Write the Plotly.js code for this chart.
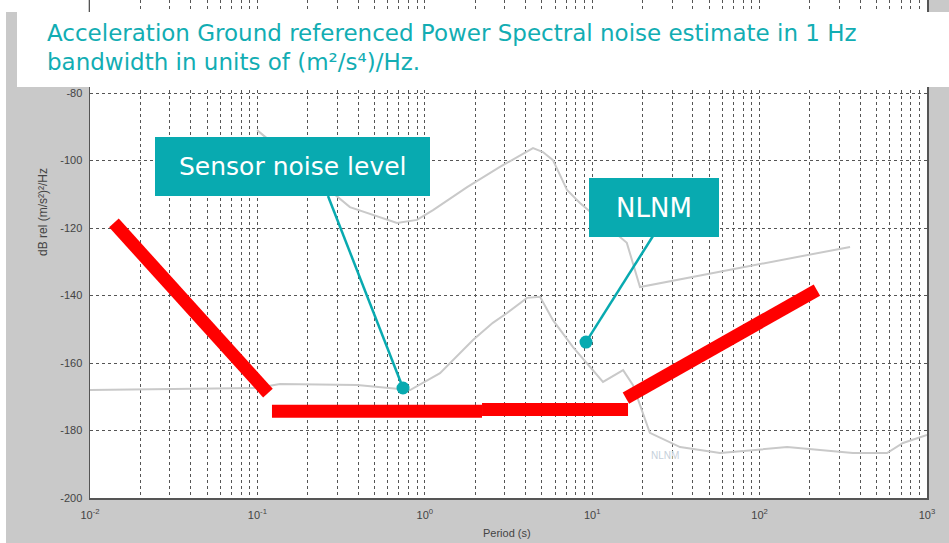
<!DOCTYPE html>
<html>
<head>
<meta charset="utf-8">
<script src="https://cdn.plot.ly/plotly-3.0.1.min.js"></script>
<style>html,body{margin:0;padding:0;background:#fff;}#chart{width:949px;height:543px;}</style>
</head>
<body>
<div id="chart"></div>
<script>
// ---- Data ----
// Lower grey curve (NLNM), period in s, level in dB
const nlnmPeriod = [0.01, 0.0995, 0.1364, 0.394, 0.817, 1.233, 1.94, 2.55, 3.10, 4.08, 4.88, 5.83, 7.68, 10.1, 11.6, 15.3, 17.5, 22.1, 33.5, 58.0, 146, 361, 577, 719, 1000];
const nlnmDb     = [-168.0, -167.4, -166.2, -166.5, -168.0, -163.0, -153.2, -148.1, -145.2, -140.7, -140.4, -147.3, -155.3, -162.1, -165.6, -162.1, -166.5, -180.7, -184.9, -186.7, -184.9, -186.7, -186.7, -183.7, -181.3];
// Upper grey curve
const upperPeriod = [0.0995, 0.357, 0.682, 0.898, 1.12, 1.79, 2.81, 4.43, 5.08, 5.83, 7.07, 8.45, 16.1, 19.3, 347];
const upperDb     = [-91.0, -113.8, -118.5, -117.6, -114.7, -107.9, -101.9, -96.3, -97.5, -99.9, -108.7, -112.6, -124.4, -137.5, -125.6];
// Sensor noise level (red), segments separated by null
const sensorPeriod = [0.0139, 0.1156, null, 0.1222, 2.197, null, 2.197, 16.37, null, 15.9, 220];
const sensorDb     = [-118.5, -168.9, null, -174.3, -174.3, null, -173.8, -173.8, null, -170.4, -138.4];
// Axis ticks
const xTickVals = [0.01, 0.1, 1, 10, 100, 1000];
const xTickText = ['10<sup>-2</sup>', '10<sup>-1</sup>', '10<sup>0</sup>', '10<sup>1</sup>', '10<sup>2</sup>', '10<sup>3</sup>'];
const yTickVals = [-200, -180, -160, -140, -120, -100, -80];
const yTickText = ['-200', '-180', '-160', '-140', '-120', '-100', '-80'];
// Texts
const titleLine1 = 'Acceleration Ground referenced Power Spectral noise estimate in 1 Hz';
const titleLine2 = 'bandwidth in units of (m\u00B2/s\u2074)/Hz.';
const labelSensor = 'Sensor noise level';
const labelNlnm = 'NLNM';
const xTitle = 'Period (s)';
const yTitle = 'dB rel (m/s\u00B2)\u00B2/Hz';
// Pointer targets (period, dB)
const sensorPointer = [0.741, -167.4];
const nlnmPointer = [9.18, -153.8];

// ---- Layout helpers ----
const W = 949, H = 543, ML = 90, MR = 22, MT = 0, MB = 45;
const PW = W - ML - MR, PH = H - MT - MB;
const X_MIN = -2, X_MAX = 3, Y_MIN = -200, Y_PX_PER_DB = 3.375;
const Y_MAX = Y_MIN + PH / Y_PX_PER_DB;
const px = x => (x - ML) / PW;              // pixel x -> paper x
const py = y => (H - MB - y) / PH;          // pixel y -> paper y
const dx = p => (Math.log10(p) - X_MIN) / (X_MAX - X_MIN);   // period -> paper x
const dy = v => (v - Y_MIN) / (Y_MAX - Y_MIN);                // dB -> paper y

const teal = '#08aab0';
const gridCol = '#555555';
const R = 6.5;

const traces = [
  {x: upperPeriod, y: upperDb, mode: 'lines', line: {color: '#c9c9c9', width: 2}, hoverinfo: 'skip'},
  {x: nlnmPeriod, y: nlnmDb, mode: 'lines', line: {color: '#c9c9c9', width: 2}, hoverinfo: 'skip'},
  {x: sensorPeriod, y: sensorDb, mode: 'lines', connectgaps: false, line: {color: '#ff0000', width: 13}, hoverinfo: 'skip'}
];

function dot(pt) {
  const cx = dx(pt[0]), cy = dy(pt[1]);
  return {type: 'circle', xref: 'paper', yref: 'paper', x0: cx - R / PW, x1: cx + R / PW, y0: cy - R / PH, y1: cy + R / PH, fillcolor: teal, line: {width: 0}, layer: 'above'};
}

const shapes = [
  // white page margins
  {type: 'rect', xref: 'paper', yref: 'paper', x0: px(0), x1: px(6), y0: py(543), y1: py(0), fillcolor: '#fff', line: {width: 0}, layer: 'above'},
  {type: 'rect', xref: 'paper', yref: 'paper', x0: px(0), x1: px(88), y0: py(12), y1: py(0), fillcolor: '#fff', line: {width: 0}, layer: 'above'},
  // title box
  {type: 'rect', xref: 'paper', yref: 'paper', x0: px(17), x1: px(949), y0: py(87), y1: py(12), fillcolor: '#fff', line: {width: 0}, layer: 'above'},
  // pointer lines
  {type: 'line', xref: 'paper', yref: 'paper', x0: px(328), y0: py(196), x1: dx(sensorPointer[0]), y1: dy(sensorPointer[1]), line: {color: teal, width: 2.5}, layer: 'above'},
  {type: 'line', xref: 'paper', yref: 'paper', x0: px(653), y0: py(236), x1: dx(nlnmPointer[0]), y1: dy(nlnmPointer[1]), line: {color: teal, width: 2.5}, layer: 'above'},
  // callout boxes
  {type: 'rect', xref: 'paper', yref: 'paper', x0: px(155), x1: px(430), y0: py(196), y1: py(137), fillcolor: teal, line: {width: 0}, layer: 'above'},
  {type: 'rect', xref: 'paper', yref: 'paper', x0: px(589), x1: px(719), y0: py(237), y1: py(178), fillcolor: teal, line: {width: 0}, layer: 'above'},
  // pointer dots
  dot(sensorPointer),
  dot(nlnmPointer)
];

const titleFont = {family: 'DejaVu Sans, sans-serif', size: 23, color: '#12adb3'};
const annotations = [
  {xref: 'paper', yref: 'paper', x: px(45), y: py(33), xanchor: 'left', yanchor: 'middle', text: titleLine1, showarrow: false, font: titleFont},
  {xref: 'paper', yref: 'paper', x: px(45), y: py(62), xanchor: 'left', yanchor: 'middle', text: titleLine2, showarrow: false, font: titleFont},
  {xref: 'paper', yref: 'paper', x: px(292.5), y: py(167), xanchor: 'center', yanchor: 'middle', text: labelSensor, showarrow: false, font: {family: 'DejaVu Sans, sans-serif', size: 25, color: '#fff'}},
  {xref: 'paper', yref: 'paper', x: px(654), y: py(208), xanchor: 'center', yanchor: 'middle', text: labelNlnm, showarrow: false, font: {family: 'DejaVu Sans, sans-serif', size: 26, color: '#fff'}},
  {xref: 'paper', yref: 'paper', x: px(665), y: py(455), xanchor: 'center', yanchor: 'middle', text: 'NLNM', showarrow: false, font: {family: 'Liberation Sans, Arial, sans-serif', size: 10, color: '#c6d0da'}},
  {xref: 'paper', yref: 'paper', x: px(507), y: py(533), xanchor: 'center', yanchor: 'middle', text: xTitle, showarrow: false, font: {family: 'Liberation Sans, Arial, sans-serif', size: 11, color: '#444'}},
  {xref: 'paper', yref: 'paper', x: px(43), y: py(212), xanchor: 'center', yanchor: 'middle', text: yTitle, textangle: -90, showarrow: false, font: {family: 'Liberation Sans, Arial, sans-serif', size: 12, color: '#444'}}
];

const layout = {
  width: W, height: H,
  margin: {l: ML, r: MR, t: MT, b: MB, pad: 0},
  paper_bgcolor: '#c9c9c9',
  plot_bgcolor: '#ffffff',
  showlegend: false,
  xaxis: {
    type: 'log', range: [X_MIN, X_MAX], autorange: false,
    tickmode: 'array', tickvals: xTickVals, ticktext: xTickText,
    ticks: '', ticklabelstandoff: 6, showline: true, linecolor: '#555', linewidth: 1.5, mirror: false,
    showgrid: true, gridcolor: gridCol, gridwidth: 1, griddash: 'dot',
    minor: {dtick: 'D1', showgrid: true, gridcolor: gridCol, gridwidth: 1, griddash: 'dot', ticks: ''},
    tickfont: {family: 'Liberation Sans, Arial, sans-serif', size: 11, color: '#444'},
    zeroline: false
  },
  yaxis: {
    range: [Y_MIN, Y_MAX], autorange: false,
    tickmode: 'array', tickvals: yTickVals, ticktext: yTickText,
    ticks: '', ticklabelstandoff: 4, showline: true, linecolor: '#555', linewidth: 1.5, mirror: true,
    showgrid: true, gridcolor: gridCol, gridwidth: 1, griddash: 'dot',
    tickfont: {family: 'Liberation Sans, Arial, sans-serif', size: 11, color: '#444'},
    zeroline: false
  },
  shapes: shapes,
  annotations: annotations
};

Plotly.newPlot('chart', traces, layout, {staticPlot: true, displayModeBar: false});
</script>
</body>
</html>
